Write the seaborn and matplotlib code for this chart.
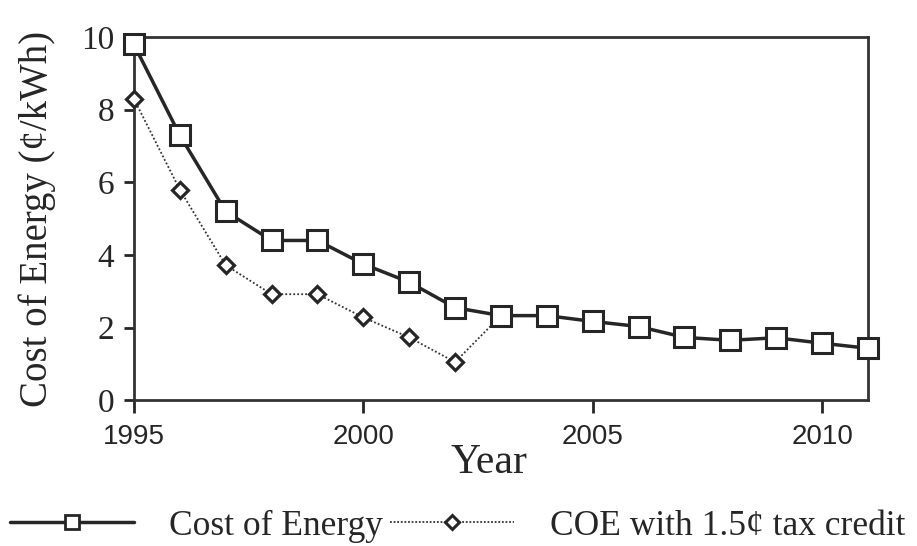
import matplotlib
matplotlib.use("Agg")
import matplotlib.pyplot as plt
from matplotlib.lines import Line2D
import seaborn as sns
import pandas as pd

years = [1995, 1996, 1997, 1998, 1999, 2000, 2001, 2002, 2003, 2004, 2005, 2006, 2007, 2008, 2009, 2010, 2011]
coe = [9.8, 7.3, 5.2, 4.4, 4.4, 3.75, 3.25, 2.55, 2.33, 2.33, 2.17, 2.03, 1.73, 1.65, 1.72, 1.57, 1.43]
credit_years = [1995, 1996, 1997, 1998, 1999, 2000, 2001, 2002, 2003]
coe_credit = [8.3, 5.8, 3.72, 2.92, 2.92, 2.28, 1.73, 1.05, 2.33]
xticks = [1995, 2000, 2005, 2010]
yticks = [0, 2, 4, 6, 8, 10]
series_labels = ["Cost of Energy", "COE with 1.5\u00a2 tax credit"]

sns.set_style("ticks")
plt.rcParams['font.family'] = ['Liberation Serif', 'DejaVu Serif']

df1 = pd.DataFrame({"Year": years, "COE": coe})
df2 = pd.DataFrame({"Year": credit_years, "COE": coe_credit})

ink = "#262626"
fig = plt.figure(figsize=(9.17, 5.46), dpi=100)
ax = fig.add_axes([0.146, 0.267, 0.8006, 0.665])

sns.lineplot(data=df2, x="Year", y="COE", ax=ax, color="#333333", linestyle=(0, (1, 1.2)),
             linewidth=1.3, marker="D", markersize=8, markerfacecolor="white",
             markeredgecolor=ink, markeredgewidth=2.3, clip_on=False, zorder=3)
sns.lineplot(data=df1, x="Year", y="COE", ax=ax, color=ink, linestyle="-",
             linewidth=2.5, marker="s", markersize=14, markerfacecolor="white",
             markeredgecolor=ink, markeredgewidth=2.2, clip_on=False, zorder=4)

ax.set_xlim(1995, 2011)
ax.set_ylim(0, 10)
ax.set_xticks(xticks)
ax.set_yticks(yticks)
for lab in ax.get_xticklabels():
    lab.set_family(['Liberation Sans', 'DejaVu Sans'])
    lab.set_fontsize(20)
    lab.set_color(ink)
for lab in ax.get_yticklabels():
    lab.set_family(['Liberation Serif', 'DejaVu Serif'])
    lab.set_fontsize(24)
    lab.set_color(ink)
ax.tick_params(axis="x", direction="out", length=9, width=2, color=ink, pad=8)
ax.tick_params(axis="y", direction="out", length=7, width=2, color=ink, pad=7)
for s in ax.spines.values():
    s.set_linewidth(2)
    s.set_color("#333333")
    s.set_visible(True)

ax.set_xlabel("Year", fontsize=30, color=ink, labelpad=0)
ax.xaxis.set_label_coords(0.484, -0.12, transform=ax.transAxes)
ax.set_ylabel("Cost of Energy (\u00a2/kWh)", fontsize=28, color=ink, labelpad=18)

h1 = Line2D([], [], color=ink, linestyle="-", linewidth=2.5, marker="s", markersize=10,
            markerfacecolor="white", markeredgecolor=ink, markeredgewidth=2.0)
h2 = Line2D([], [], color="#333333", linestyle=(0, (1, 1.0)), linewidth=1.3, marker="D",
            markersize=7, markerfacecolor="white", markeredgecolor=ink, markeredgewidth=2.2)
fig.legend([h1, h2], series_labels, loc="center left",
           bbox_to_anchor=(10 / 917, 1 - 526 / 546), ncol=2, frameon=False, fontsize=25.5,
           handlelength=3.5, columnspacing=0.2, handletextpad=1.0, borderpad=0,
           borderaxespad=0, labelcolor=ink)

fig.savefig("out.png", dpi=100)
